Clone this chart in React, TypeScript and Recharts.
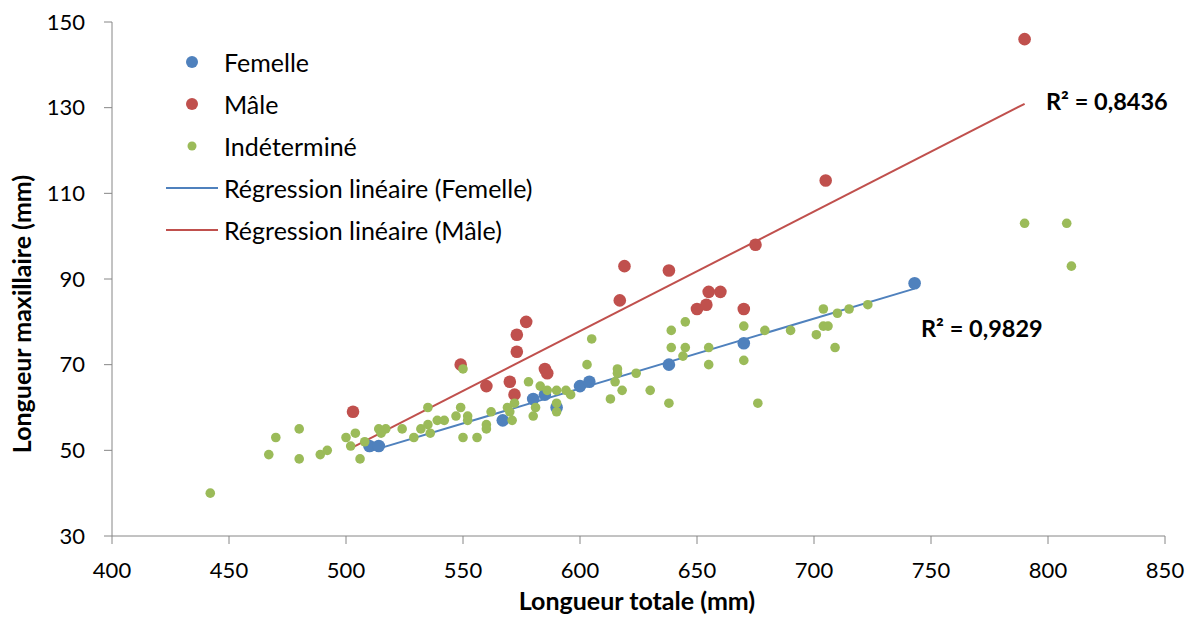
import React from 'react';
import { ScatterChart, Scatter, XAxis, YAxis, ReferenceLine, Legend } from 'recharts';

// Femelle
const femaleTotal = [510, 514, 567, 580, 585, 590, 600, 604, 638, 670, 743];
const femaleMax = [51, 51, 57, 62, 63, 60, 65, 66, 70, 75, 89];

// Mâle
const maleTotal = [503, 549, 560, 570, 572, 573, 573, 577, 585, 586, 617, 619, 638, 650, 654, 655, 660, 670, 675, 705, 790];
const maleMax = [59, 70, 65, 66, 63, 73, 77, 80, 69, 68, 85, 93, 92, 83, 84, 87, 87, 83, 98, 113, 146];

// Indéterminé
const unknownTotal = [
  442, 467, 470, 480, 480, 489, 492, 500, 504, 502, 506, 508, 514, 517, 515, 524, 529, 532, 535, 535,
  536, 539, 542, 547, 549, 550, 552, 552, 550, 556, 560, 560, 562, 569, 570, 571, 572, 578, 581, 580,
  583, 586, 590, 590, 590, 594, 596, 603, 605, 613, 616, 616, 615, 618, 624, 630, 638, 639, 639, 645,
  645, 644, 655, 655, 670, 670, 676, 679, 690, 701, 704, 704, 706, 709, 710, 715, 723, 790, 808, 810,
];
const unknownMax = [
  40, 49, 53, 55, 48, 49, 50, 53, 54, 51, 48, 52, 55, 55, 54, 55, 53, 55, 56, 60,
  54, 57, 57, 58, 60, 69, 58, 57, 53, 53, 56, 55, 59, 60, 59, 57, 61, 66, 60, 58,
  65, 64, 64, 61, 59, 64, 63, 70, 76, 62, 69, 68, 66, 64, 68, 64, 61, 78, 74, 80,
  74, 72, 74, 70, 79, 71, 61, 78, 78, 77, 83, 79, 79, 74, 82, 83, 84, 103, 103, 93,
];

const xTicks = [400, 450, 500, 550, 600, 650, 700, 750, 800, 850];
const yTicks = [30, 50, 70, 90, 110, 130, 150];

const BLUE = '#4F81BD';
const RED = '#C0504D';
const GREEN = '#9BBB59';
const AXIS = '#868686';
const FONT = 'Lato, "Open Sans", sans-serif';

const toPoints = (xs: number[], ys: number[]) => xs.map((x, i) => ({ x, y: ys[i] }));

// least squares line over the range of the series
const fitLine = (xs: number[], ys: number[]) => {
  const n = xs.length;
  const mx = xs.reduce((a, b) => a + b, 0) / n;
  const my = ys.reduce((a, b) => a + b, 0) / n;
  let sxy = 0;
  let sxx = 0;
  xs.forEach((x, i) => {
    sxy += (x - mx) * (ys[i] - my);
    sxx += (x - mx) * (x - mx);
  });
  const b = sxy / sxx;
  const a = my - b * mx;
  const x0 = Math.min(...xs);
  const x1 = Math.max(...xs);
  return [{ x: x0, y: a + b * x0 }, { x: x1, y: a + b * x1 }];
};

const femaleData = toPoints(femaleTotal, femaleMax);
const maleData = toPoints(maleTotal, maleMax);
const unknownData = toPoints(unknownTotal, unknownMax);

const dot = (r: number, fill: string) => (props: any) =>
  <circle cx={props.cx} cy={props.cy} r={r} fill={fill} />;

const legendItems = [
  { label: 'Femelle', kind: 'dot', color: BLUE, r: 6 },
  { label: 'Mâle', kind: 'dot', color: RED, r: 6 },
  { label: 'Indéterminé', kind: 'dot', color: GREEN, r: 4.5 },
  { label: 'Régression linéaire (Femelle)', kind: 'line', color: BLUE, r: 0 },
  { label: 'Régression linéaire (Mâle)', kind: 'line', color: RED, r: 0 },
];

const ChartLegend = () => (
  <div style={{ fontFamily: FONT, fontSize: 25, color: '#000' }}>
    {legendItems.map((item) => (
      <div key={item.label} style={{ display: 'flex', alignItems: 'center', height: 42 }}>
        <svg width={52} height={20} style={{ marginRight: 6 }}>
          {item.kind === 'dot' ? (
            <circle cx={26} cy={10} r={item.r} fill={item.color} />
          ) : (
            <line x1={0} y1={10} x2={52} y2={10} stroke={item.color} strokeWidth={2} />
          )}
        </svg>
        <span style={{ whiteSpace: 'nowrap' }}>{item.label}</span>
      </div>
    ))}
  </div>
);

export default function App() {
  return (
    <div style={{ position: 'absolute', left: 0, top: 0, width: 1193, height: 620, background: '#fff', fontFamily: FONT }}>
      <ScatterChart width={1193} height={620} margin={{ top: 22, right: 28, bottom: 0, left: 0 }}>
        <XAxis
          type="number"
          dataKey="x"
          domain={[400, 850]}
          ticks={xTicks}
          height={84}
          stroke={AXIS}
          tickSize={8}
          tickMargin={18}
          tick={{ fill: '#000', fontSize: 22, fontFamily: FONT }}
          allowDataOverflow
        />
        <YAxis
          type="number"
          dataKey="y"
          domain={[30, 150]}
          ticks={yTicks}
          width={112}
          stroke={AXIS}
          tickSize={8}
          tickMargin={19}
          tick={{ fill: '#000', fontSize: 22, fontFamily: FONT }}
          allowDataOverflow
        />
        <Legend
          layout="vertical"
          align="center"
          verticalAlign="middle"
          wrapperStyle={{ position: 'absolute', left: 166, top: 41, width: 440 }}
          content={() => <ChartLegend />}
        />
        <Scatter name="Femelle" data={femaleData} fill={BLUE} shape={dot(6.3, BLUE)} isAnimationActive={false} />
        <Scatter name="Mâle" data={maleData} fill={RED} shape={dot(6.3, RED)} isAnimationActive={false} />
        <Scatter name="Indéterminé" data={unknownData} fill={GREEN} shape={dot(4.8, GREEN)} isAnimationActive={false} />
        <ReferenceLine segment={fitLine(femaleTotal, femaleMax)} stroke={BLUE} strokeWidth={2} ifOverflow="visible" />
        <ReferenceLine segment={fitLine(maleTotal, maleMax)} stroke={RED} strokeWidth={2} ifOverflow="visible" />
      </ScatterChart>
      <svg
        width={1193}
        height={620}
        style={{ position: 'absolute', left: 0, top: 0, pointerEvents: 'none' }}
        fontFamily={FONT}
        fontWeight="bold"
      >
        <text x={637} y={610} textAnchor="middle" fontSize={25}>Longueur totale (mm)</text>
        <text transform="translate(31, 314) rotate(-90)" textAnchor="middle" fontSize={25}>Longueur maxillaire (mm)</text>
        <text x={1046} y={110} fontSize={23.5}>R² = 0,8436</text>
        <text x={921} y={337} fontSize={23.5}>R² = 0,9829</text>
      </svg>
    </div>
  );
}
